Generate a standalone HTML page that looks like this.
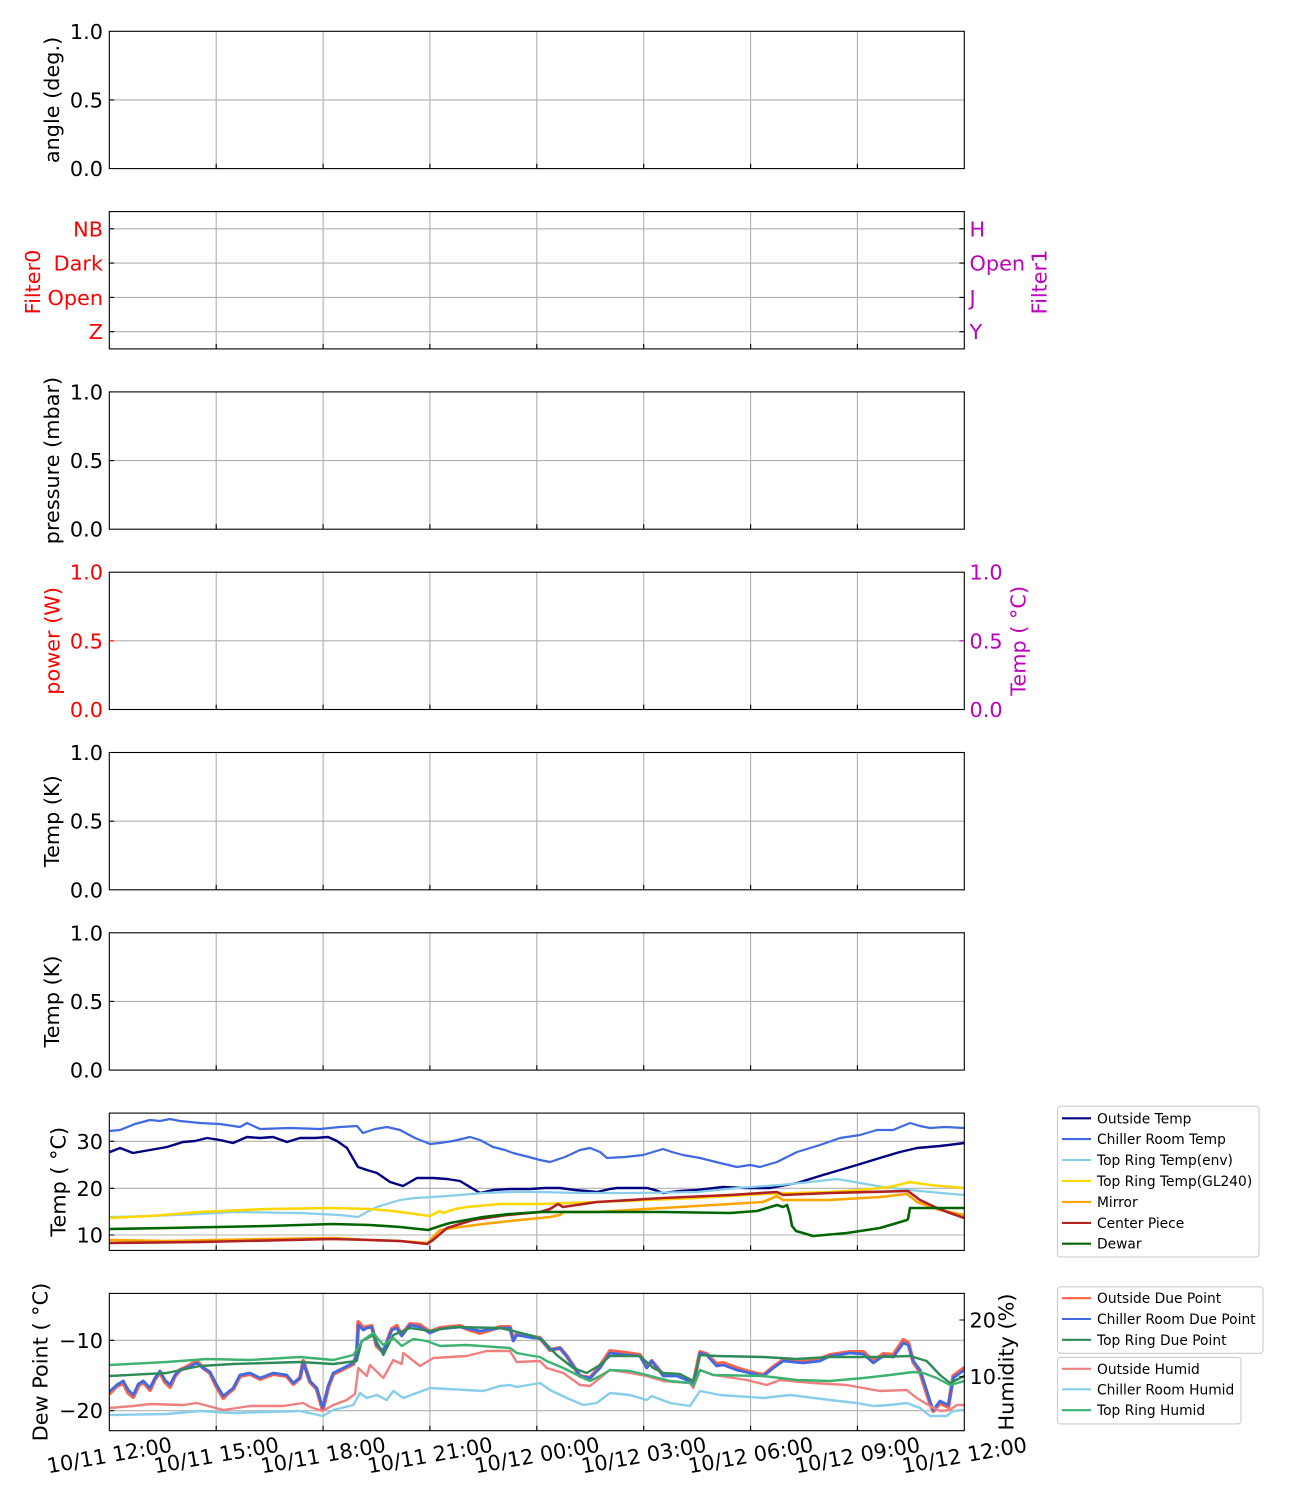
<!DOCTYPE html>
<html><head><meta charset="utf-8"><style>
html,body{margin:0;padding:0;background:#fff;}
svg{display:block;}
text{font-family:"DejaVu Sans","Liberation Sans",sans-serif;}
</style></head><body>
<svg width="1300" height="1500" viewBox="0 0 1300 1500" xmlns="http://www.w3.org/2000/svg">
<defs>
<clipPath id="c7"><rect x="109.3" y="1113.1" width="855" height="137.3"/></clipPath>
<clipPath id="c8"><rect x="109.3" y="1293.4" width="855" height="137.3"/></clipPath>
</defs>
<rect width="1300" height="1500" fill="#fff"/>

<g stroke="#b0b0b0" stroke-width="1.1" fill="none">
<path d="M216.2 31.3V168.6M323.1 31.3V168.6M429.9 31.3V168.6M536.8 31.3V168.6M643.7 31.3V168.6M750.6 31.3V168.6M857.4 31.3V168.6"/>
<path d="M216.2 211.6V348.9M323.1 211.6V348.9M429.9 211.6V348.9M536.8 211.6V348.9M643.7 211.6V348.9M750.6 211.6V348.9M857.4 211.6V348.9"/>
<path d="M216.2 391.9V529.2M323.1 391.9V529.2M429.9 391.9V529.2M536.8 391.9V529.2M643.7 391.9V529.2M750.6 391.9V529.2M857.4 391.9V529.2"/>
<path d="M216.2 572.2V709.5M323.1 572.2V709.5M429.9 572.2V709.5M536.8 572.2V709.5M643.7 572.2V709.5M750.6 572.2V709.5M857.4 572.2V709.5"/>
<path d="M216.2 752.5V889.8M323.1 752.5V889.8M429.9 752.5V889.8M536.8 752.5V889.8M643.7 752.5V889.8M750.6 752.5V889.8M857.4 752.5V889.8"/>
<path d="M216.2 932.8V1070.1M323.1 932.8V1070.1M429.9 932.8V1070.1M536.8 932.8V1070.1M643.7 932.8V1070.1M750.6 932.8V1070.1M857.4 932.8V1070.1"/>
<path d="M216.2 1113.1V1250.4M323.1 1113.1V1250.4M429.9 1113.1V1250.4M536.8 1113.1V1250.4M643.7 1113.1V1250.4M750.6 1113.1V1250.4M857.4 1113.1V1250.4"/>
<path d="M216.2 1293.4V1430.7M323.1 1293.4V1430.7M429.9 1293.4V1430.7M536.8 1293.4V1430.7M643.7 1293.4V1430.7M750.6 1293.4V1430.7M857.4 1293.4V1430.7"/>
<path d="M109.3 99.95H964.3"/>
<path d="M109.3 228.8H964.3M109.3 263.1H964.3M109.3 297.4H964.3M109.3 331.7H964.3"/>
<path d="M109.3 460.55H964.3"/>
<path d="M109.3 640.85H964.3"/>
<path d="M109.3 821.15H964.3"/>
<path d="M109.3 1001.45H964.3"/>
<path d="M109.3 1141.3H964.3M109.3 1188.3H964.3M109.3 1235H964.3"/>
<path d="M109.3 1340.3H964.3M109.3 1410.7H964.3"/>
</g>

<g clip-path="url(#c7)" fill="none" stroke-linejoin="round" stroke-linecap="round">
<polyline stroke="#000080" stroke-width="2.4" points="109.3,1151 110,1152 120,1148 133,1153 150,1150 167,1147 183,1142 195,1141 207,1138 220,1140 233,1143 247,1137 260,1138 273,1137 287,1142 300,1138 315,1138 328,1137 337,1141 347,1148 358,1167 367,1170 377,1173 390,1182 403,1186 410,1182 417,1178 433,1178 447,1179 460,1181 470,1187 480,1193 493,1190 510,1189 530,1189 545,1188 560,1188 575,1190 597,1192 610,1189 617,1188 647,1188 655,1190 663,1193 680,1191 697,1190 723,1187 745,1188 770,1188 797,1183 823,1175 840,1170 857,1165 870,1161 883,1157 900,1152 917,1148 940,1146 964.3,1143"/>
<polyline stroke="#4169e1" stroke-width="2.2" points="109.3,1131 120,1130 135,1124 150,1120 160,1121 170,1119 180,1121 200,1123 220,1124 240,1127 247,1123 260,1129 290,1128 320,1129 340,1127 357,1126 363,1133 375,1129 387,1127 400,1130 415,1138 430,1144 440,1143 453,1141 470,1137 480,1140 493,1147 505,1150 513,1153 525,1156 540,1160 550,1162 565,1157 580,1150 590,1148 600,1152 607,1158 625,1157 643,1155 663,1149 672,1152 683,1155 700,1158 720,1163 737,1167 750,1165 760,1167 777,1162 797,1152 820,1145 840,1138 860,1135 877,1130 893,1130 910,1123 920,1126 930,1128 945,1127 964.3,1128"/>
<polyline stroke="#87ceeb" stroke-width="2.2" points="109.3,1217 150,1216 200,1214 233,1212 300,1213 340,1215 358,1217 367,1212 377,1207 390,1203 400,1200 415,1198 433,1197 460,1195 483,1193 510,1192 540,1192 580,1193 630,1193 697,1192 737,1188 780,1185 810,1182 837,1179 860,1183 883,1187 910,1190 930,1192 964.3,1195"/>
<polyline stroke="#ffd700" stroke-width="2.6" points="109.3,1218 150,1216 200,1212 267,1209 333,1208 370,1209 393,1211 415,1214 430,1216 436,1213 440,1211 443,1213 455,1209 467,1207 500,1204 540,1204 597,1202 697,1198 763,1194 830,1192 860,1190 890,1187 910,1182 930,1185 964.3,1188"/>
<polyline stroke="#ffa500" stroke-width="2.6" points="109.3,1240 167,1241 267,1239 333,1238 370,1240 400,1241 428,1243 434,1236 440,1230 453,1228 483,1224 510,1221 540,1218 550,1217 560,1215 563,1212 597,1212 663,1208 730,1204 763,1202 777,1196 783,1200 830,1200 880,1197 907,1194 917,1202 940,1210 964.3,1215"/>
<polyline stroke="#b22222" stroke-width="2.6" points="109.3,1243 200,1242 333,1239 370,1240 400,1241 427,1244 433,1240 447,1228 460,1224 473,1220 507,1215 540,1212 550,1209 558,1204 563,1207 597,1202 663,1198 730,1195 777,1192 783,1195 830,1193 908,1191 920,1200 937,1208 950,1213 964.3,1218"/>
<polyline stroke="#006400" stroke-width="2.6" points="109.3,1229 167,1228 267,1226 333,1224 370,1225 400,1227 428,1230 440,1226 450,1223 483,1217 510,1214 540,1212 597,1212 663,1212 730,1213 757,1211 777,1205 783,1207 787,1205 790,1215 792,1226 796,1231 803,1233 813,1236 847,1233 880,1228 907,1220 908,1219 910,1208 964.3,1208"/>
</g>

<g clip-path="url(#c8)" fill="none" stroke-linejoin="round" stroke-linecap="round">
<polyline stroke="#ff6347" stroke-width="4" points="109.3,1392 110,1393 116.7,1386 123.3,1383 128.3,1393 133.3,1397 138.3,1386 143.3,1382 150,1390 155,1379 160,1372 165,1382 170,1387 175,1376 180,1370 186.7,1367 196.7,1361 203.3,1368 210,1373 216.7,1387 223.3,1398 228.3,1393 233.3,1389 240,1376 250,1374 260,1379 273.3,1374 286.7,1376 293.3,1384 300,1378 303.3,1361 310,1382 316.7,1389 322.7,1410 328.3,1387 333.3,1374 343.3,1369 353.3,1364 356.7,1355 358.3,1322 363.3,1328 366.7,1327 371.7,1326 376.7,1346 383.3,1352 391.7,1329 396.7,1326 401.7,1335 410,1324 420,1325 430,1332 440,1328 460,1326 470,1330 480,1333 500,1327 510,1327 513.3,1340 516.7,1334 533.3,1337 540,1338 550,1350 560,1348 566.7,1356 580,1376 590,1378 600,1366 610,1351 626.7,1353 640,1355 646.7,1367 651.7,1361 663.3,1375 676.7,1375 686.7,1379 693.3,1384 700,1352 706.7,1354 716.7,1364 723.3,1363 736.7,1368 750,1372 763.3,1375 773.3,1367 783.3,1360 803.3,1362 820,1359 830,1355 850,1352 863.3,1352 873.3,1361 883.3,1354 893.3,1355 903.3,1340 908.3,1343 913.3,1362 920,1372 925,1388 930,1403 933.3,1411 940,1403 948.3,1407 953.3,1376 964.3,1368"/>
<polyline stroke="#4169e1" stroke-width="2.8" points="109.3,1391 110,1391 116.7,1385 123.3,1381 128.3,1390 133.3,1395 138.3,1384 143.3,1381 150,1388 155,1378 160,1371 165,1380 170,1385 175,1375 180,1370 186.7,1368 196.7,1363 203.3,1368 210,1372 216.7,1385 223.3,1396 228.3,1392 233.3,1388 240,1375 250,1373 260,1378 273.3,1373 286.7,1375 293.3,1383 300,1378 303.3,1363 310,1381 316.7,1388 322.7,1408 328.3,1386 333.3,1373 343.3,1368 353.3,1363 356.7,1355 358.3,1325 363.3,1330 366.7,1328 371.7,1327 376.7,1345 383.3,1351 391.7,1330 396.7,1328 401.7,1336 410,1325 420,1327 430,1333 440,1329 460,1327 480,1331 500,1328 510,1328 513.3,1341 516.7,1335 533.3,1338 540,1338 550,1350 560,1348 566.7,1356 580,1376 590,1378 600,1368 610,1353 626.7,1355 640,1356 646.7,1368 651.7,1361 663.3,1376 676.7,1376 686.7,1380 693.3,1385 700,1353 706.7,1355 716.7,1366 723.3,1365 736.7,1370 750,1373 763.3,1376 773.3,1368 783.3,1361 803.3,1363 820,1361 830,1356 850,1353 863.3,1354 873.3,1363 883.3,1356 893.3,1357 903.3,1343 908.3,1345 913.3,1361 920,1370 925,1385 930,1401 933.3,1410 940,1401 948.3,1405 953.3,1378 964.3,1370"/>
<polyline stroke="#2e8b57" stroke-width="2.4" points="109.3,1376 166.7,1373 200,1366 233.3,1364 266.7,1363 300,1362 333.3,1364 356.7,1361 361.7,1341 373.3,1335 383.3,1355 393.3,1335 410,1328 430,1331 453.3,1327 500,1328 513.3,1331 533.3,1336 543.3,1341 556.7,1355 573.3,1368 586.7,1373 600,1365 610,1356 640,1356 653.3,1368 663.3,1373 680,1374 693.3,1381 700,1355 716.7,1356 763.3,1357 796.7,1359 830,1357 880,1357 910,1356 926.7,1361 940,1375 950,1383 964.3,1376"/>
<polyline stroke="#f08080" stroke-width="2.4" points="109.3,1408 133.3,1406 150,1404 183.3,1405 196.7,1403 223.3,1410 250,1406 283.3,1406 303.3,1403 310,1407 322.7,1411 333.3,1405 346.7,1400 355,1394 358.3,1368 366.7,1376 370,1365 383.3,1378 393.3,1360 401.7,1364 403.3,1353 420,1366 433.3,1358 466.7,1356 486.7,1351 510,1351 516.7,1362 540,1361 546.7,1368 563.3,1373 580,1385 590,1386 600,1378 610,1370 630,1373 646.7,1376 663.3,1381 690,1383 693.3,1388 700,1370 713.3,1375 746.7,1380 766.7,1385 780,1380 813.3,1383 846.7,1385 863.3,1388 880,1391 906.7,1390 916.7,1398 930,1406 940,1411 950,1410 956.7,1405 964.3,1405"/>
<polyline stroke="#87ceeb" stroke-width="2.4" points="109.3,1415 166.7,1414 200,1411 233.3,1413 300,1411 322.7,1416 333.3,1410 353.3,1405 360,1393 366.7,1398 376.7,1395 386.7,1400 393.3,1391 403.3,1398 430,1388 466.7,1390 483.3,1391 500,1386 510,1385 516.7,1387 540,1383 550,1390 566.7,1398 583.3,1405 596.7,1403 610,1393 630,1395 646.7,1400 651.7,1396 670,1403 690,1406 700,1391 720,1395 763.3,1398 790,1395 830,1400 856.7,1403 873.3,1406 890,1405 906.7,1403 920,1408 930,1416 946.7,1416 953.3,1411 964.3,1410"/>
<polyline stroke="#3cb371" stroke-width="2.4" points="109.3,1365 166.7,1362 206.7,1359 250,1360 300,1357 333.3,1360 353.3,1355 363.3,1340 373.3,1333 383.3,1345 393.3,1338 401.7,1346 413.3,1339 426.7,1341 440,1346 466.7,1345 510,1348 516.7,1353 533.3,1356 540,1357 546.7,1361 563.3,1368 583.3,1378 590,1381 600,1376 610,1370 630,1371 646.7,1375 670,1381 690,1383 693.3,1386 700,1370 713.3,1375 763.3,1376 796.7,1380 830,1381 863.3,1378 890,1375 913.3,1372 923.3,1373 936.7,1378 950,1385 964.3,1381"/>
</g>

<g stroke="#000" stroke-width="1.1" fill="none">
<rect x="109.3" y="31.3" width="855" height="137.3"/>
<rect x="109.3" y="211.6" width="855" height="137.3"/>
<rect x="109.3" y="391.9" width="855" height="137.3"/>
<rect x="109.3" y="572.2" width="855" height="137.3"/>
<rect x="109.3" y="752.5" width="855" height="137.3"/>
<rect x="109.3" y="932.8" width="855" height="137.3"/>
<rect x="109.3" y="1113.1" width="855" height="137.3"/>
<rect x="109.3" y="1293.4" width="855" height="137.3"/>
</g>

<g stroke="#000" stroke-width="1.1" fill="none">
<path d="M216.2 168.6v-4.9M323.1 168.6v-4.9M429.9 168.6v-4.9M536.8 168.6v-4.9M643.7 168.6v-4.9M750.6 168.6v-4.9M857.4 168.6v-4.9"/>
<path d="M216.2 348.9v-4.9M323.1 348.9v-4.9M429.9 348.9v-4.9M536.8 348.9v-4.9M643.7 348.9v-4.9M750.6 348.9v-4.9M857.4 348.9v-4.9"/>
<path d="M216.2 529.2v-4.9M323.1 529.2v-4.9M429.9 529.2v-4.9M536.8 529.2v-4.9M643.7 529.2v-4.9M750.6 529.2v-4.9M857.4 529.2v-4.9"/>
<path d="M216.2 709.5v-4.9M323.1 709.5v-4.9M429.9 709.5v-4.9M536.8 709.5v-4.9M643.7 709.5v-4.9M750.6 709.5v-4.9M857.4 709.5v-4.9"/>
<path d="M216.2 889.8v-4.9M323.1 889.8v-4.9M429.9 889.8v-4.9M536.8 889.8v-4.9M643.7 889.8v-4.9M750.6 889.8v-4.9M857.4 889.8v-4.9"/>
<path d="M216.2 1070.1v-4.9M323.1 1070.1v-4.9M429.9 1070.1v-4.9M536.8 1070.1v-4.9M643.7 1070.1v-4.9M750.6 1070.1v-4.9M857.4 1070.1v-4.9"/>
<path d="M216.2 1250.4v-4.9M323.1 1250.4v-4.9M429.9 1250.4v-4.9M536.8 1250.4v-4.9M643.7 1250.4v-4.9M750.6 1250.4v-4.9M857.4 1250.4v-4.9"/>
<path d="M216.2 1430.7v-4.9M323.1 1430.7v-4.9M429.9 1430.7v-4.9M536.8 1430.7v-4.9M643.7 1430.7v-4.9M750.6 1430.7v-4.9M857.4 1430.7v-4.9"/>
<path d="M109.3 99.95h4.9M109.3 228.8h4.9M109.3 263.1h4.9M109.3 297.4h4.9M109.3 331.7h4.9M964.3 228.8h-4.9M964.3 263.1h-4.9M964.3 297.4h-4.9M964.3 331.7h-4.9M109.3 460.55h4.9M109.3 821.15h4.9M109.3 1001.45h4.9M109.3 1141.3h4.9M109.3 1188.3h4.9M109.3 1235h4.9M109.3 1340.3h4.9M109.3 1410.7h4.9M964.3 1320h-4.9M964.3 1376.7h-4.9"/>
</g>
<path d="M109.3 640.85h4.9" stroke="#ff0000" stroke-width="1.1"/>
<path d="M964.3 640.85h-4.9" stroke="#bf00bf" stroke-width="1.1"/>

<g font-size="20.8" fill="#000" text-anchor="end">
<text x="103" y="38.8">1.0</text><text x="103" y="107.5">0.5</text><text x="103" y="176.1">0.0</text>
<text x="103" y="399.4">1.0</text><text x="103" y="468">0.5</text><text x="103" y="536.7">0.0</text>
<text x="103" y="760">1.0</text><text x="103" y="828.6">0.5</text><text x="103" y="897.3">0.0</text>
<text x="103" y="940.3">1.0</text><text x="103" y="1008.9">0.5</text><text x="103" y="1077.6">0.0</text>
<text x="103" y="1148.8">30</text><text x="103" y="1195.8">20</text><text x="103" y="1242.5">10</text>
<text x="103" y="1347.8">−10</text><text x="103" y="1418.2">−20</text>
</g>
<g font-size="20.8" fill="#ff0000" text-anchor="end">
<text x="103" y="236.3">NB</text><text x="103" y="270.6">Dark</text><text x="103" y="304.9">Open</text><text x="103" y="339.2">Z</text>
<text x="103" y="579.7">1.0</text><text x="103" y="648.4">0.5</text><text x="103" y="717">0.0</text>
</g>
<g font-size="20.8" fill="#bf00bf" text-anchor="start">
<text x="969.5" y="236.3">H</text><text x="969.5" y="270.6">Open</text><text x="969.5" y="304.9">J</text><text x="969.5" y="339.2">Y</text>
<text x="969.5" y="579.7">1.0</text><text x="969.5" y="648.4">0.5</text><text x="969.5" y="717">0.0</text>
</g>
<g font-size="20.8" fill="#000" text-anchor="start">
<text x="969.5" y="1327.5">20</text><text x="969.5" y="1384.2">10</text>
</g>

<g font-size="20.8" text-anchor="middle">
<text transform="translate(59,99.95) rotate(-90)">angle (deg.)</text>
<text transform="translate(40,282) rotate(-90)" fill="#ff0000">Filter0</text>
<text transform="translate(1046.5,282) rotate(-90)" fill="#bf00bf">Filter1</text>
<text transform="translate(59,460.55) rotate(-90)">pressure (mbar)</text>
<text transform="translate(59.5,640.85) rotate(-90)" fill="#ff0000">power (W)</text>
<text transform="translate(1025.5,640.85) rotate(-90)" fill="#bf00bf">Temp ( °C)</text>
<text transform="translate(59,821.15) rotate(-90)">Temp (K)</text>
<text transform="translate(59,1001.45) rotate(-90)">Temp (K)</text>
<text transform="translate(65.5,1181.75) rotate(-90)">Temp ( °C)</text>
<text transform="translate(47.3,1362) rotate(-90)">Dew Point ( °C)</text>
<text transform="translate(1013.7,1362) rotate(-90)">Humidity (%)</text>
</g>

<g font-size="20.8" text-anchor="middle">
<text transform="translate(109.3,1455) rotate(-10)" y="7.5">10/11 12:00</text>
<text transform="translate(216.2,1455) rotate(-10)" y="7.5">10/11 15:00</text>
<text transform="translate(323.1,1455) rotate(-10)" y="7.5">10/11 18:00</text>
<text transform="translate(429.9,1455) rotate(-10)" y="7.5">10/11 21:00</text>
<text transform="translate(536.8,1455) rotate(-10)" y="7.5">10/12 00:00</text>
<text transform="translate(643.7,1455) rotate(-10)" y="7.5">10/12 03:00</text>
<text transform="translate(750.6,1455) rotate(-10)" y="7.5">10/12 06:00</text>
<text transform="translate(857.4,1455) rotate(-10)" y="7.5">10/12 09:00</text>
<text transform="translate(964.3,1455) rotate(-10)" y="7.5">10/12 12:00</text>
</g>

<g>
<rect x="1057.5" y="1106.2" width="201.5" height="150.8" rx="3" fill="#fff" fill-opacity="0.8" stroke="#cccccc" stroke-width="1.1"/>
<rect x="1057.5" y="1286.8" width="205.5" height="66.5" rx="3" fill="#fff" fill-opacity="0.8" stroke="#cccccc" stroke-width="1.1"/>
<rect x="1057.5" y="1357.4" width="183.5" height="66.5" rx="3" fill="#fff" fill-opacity="0.8" stroke="#cccccc" stroke-width="1.1"/>
</g>
<g stroke-width="2.1" fill="none">
<path d="M1062 1118.3h29" stroke="#000080"/>
<path d="M1062 1139.1h29" stroke="#4169e1"/>
<path d="M1062 1160h29" stroke="#87ceeb"/>
<path d="M1062 1180.9h29" stroke="#ffd700"/>
<path d="M1062 1201.9h29" stroke="#ffa500"/>
<path d="M1062 1222.9h29" stroke="#b22222"/>
<path d="M1062 1243.7h29" stroke="#006400"/>
<path d="M1062 1298.2h29" stroke="#ff6347"/>
<path d="M1062 1319h29" stroke="#4169e1"/>
<path d="M1062 1339.8h29" stroke="#2e8b57"/>
<path d="M1062 1368.8h29" stroke="#f08080"/>
<path d="M1062 1389.3h29" stroke="#87ceeb"/>
<path d="M1062 1410.2h29" stroke="#3cb371"/>
</g>
<g font-size="13.8" fill="#000">
<text x="1097" y="1123.3">Outside Temp</text>
<text x="1097" y="1144.1">Chiller Room Temp</text>
<text x="1097" y="1165">Top Ring Temp(env)</text>
<text x="1097" y="1185.9">Top Ring Temp(GL240)</text>
<text x="1097" y="1206.9">Mirror</text>
<text x="1097" y="1227.9">Center Piece</text>
<text x="1097" y="1248.7">Dewar</text>
<text x="1097" y="1303.2">Outside Due Point</text>
<text x="1097" y="1324">Chiller Room Due Point</text>
<text x="1097" y="1344.8">Top Ring Due Point</text>
<text x="1097" y="1373.8">Outside Humid</text>
<text x="1097" y="1394.3">Chiller Room Humid</text>
<text x="1097" y="1415.2">Top Ring Humid</text>
</g>
</svg>
</body></html>
